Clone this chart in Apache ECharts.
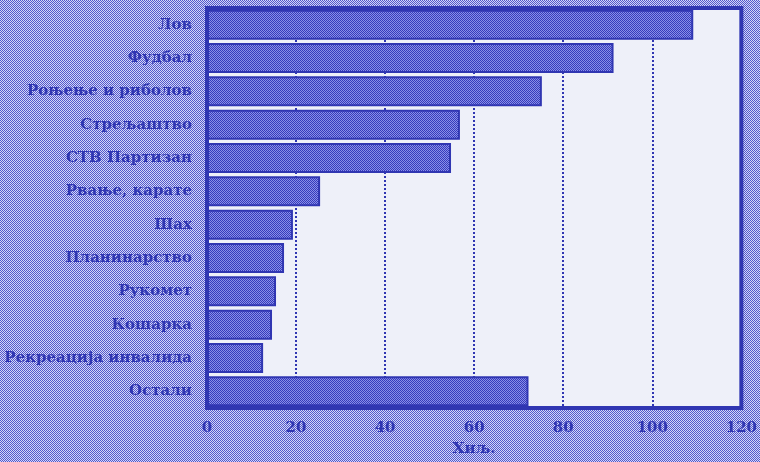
<!DOCTYPE html>
<html>
<head>
<meta charset="utf-8">
<script src="https://cdn.jsdelivr.net/npm/echarts@6/dist/echarts.min.js"></script>
<style>
html,body{margin:0;padding:0;}
body{width:760px;height:462px;background:#9296de;}
#c{width:760px;height:462px;}
</style>
</head>
<body>
<div id="c"></div>
<script>
const categories = ["Лов","Фудбал","Роњење и риболов","Стрељаштво","СТВ Партизан","Рвање, карате","Шах","Планинарство","Рукомет","Кошарка","Рекреација инвалида","Остали"];
const values = [109.2, 91.3, 75.2, 56.8, 54.8, 25.4, 19.3, 17.3, 15.5, 14.6, 12.6, 72.2];
const xTicks = [0, 20, 40, 60, 80, 100, 120];
const axisName = "Хиљ.";

function checker(dark, light, size){
  const cv = document.createElement('canvas');
  cv.width = size; cv.height = size;
  const g = cv.getContext('2d');
  g.fillStyle = light; g.fillRect(0,0,size,size);
  g.fillStyle = dark;
  for (let y = 0; y < size; y++) for (let x = 0; x < size; x++) if ((x + y) % 2 === 0) g.fillRect(x,y,1,1);
  return cv;
}
document.body.style.background = 'url(' + checker('#5258cc', '#d4d6f6', 2).toDataURL() + ') repeat';

const blue = '#3036b2';
const chart = echarts.init(document.getElementById('c'), null, {renderer:'canvas'});
chart.setOption({
  backgroundColor: 'transparent',
  animation: false,
  grid: {left: 207, top: 8, width: 538, height: 404, show: true, backgroundColor: '#eef0f9', borderColor: blue, borderWidth: 4},
  xAxis: {
    type: 'value', min: xTicks[0], max: xTicks[xTicks.length-1], interval: 20,
    name: axisName, nameLocation: 'middle', nameGap: 34,
    nameTextStyle: {color: blue, fontFamily: 'DejaVu Serif', fontWeight: 'bold', fontSize: 15},
    axisLine: {show: false}, axisTick: {show: false},
    axisLabel: {color: blue, fontFamily: 'DejaVu Serif', fontWeight: 'bold', fontSize: 15, margin: 13},
    splitLine: {show: true, lineStyle: {color: blue, width: 2, type: [2, 2]}}
  },
  yAxis: {
    type: 'category', data: categories, inverse: true,
    axisLine: {show: false}, axisTick: {show: false},
    axisLabel: {color: blue, fontFamily: 'DejaVu Serif', fontWeight: 'bold', fontSize: 15, margin: 15}
  },
  series: [{
    type: 'bar', data: values, barWidth: 30,
    itemStyle: {color: {image: checker('#353bbd', '#8a8fe6', 2), repeat: 'repeat'}, borderColor: blue, borderWidth: 2}
  }]
});
</script>
</body>
</html>
